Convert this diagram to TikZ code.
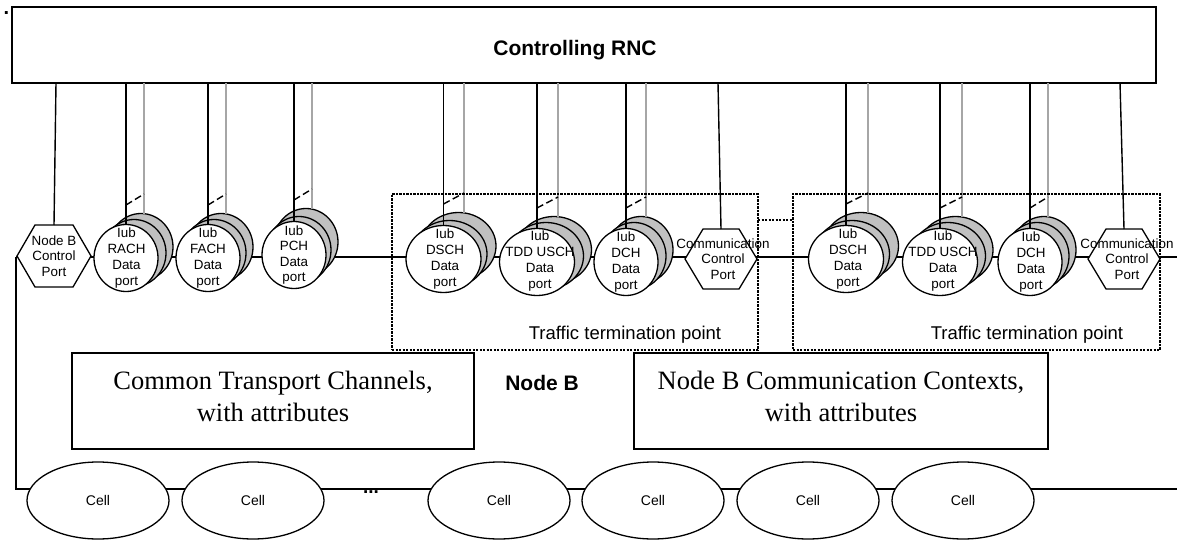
\documentclass[tikz,border=0pt]{standalone}
\usepackage{fontspec}
\setmainfont{Liberation Sans}
\newfontfamily\timesfont{Liberation Serif}
\usetikzlibrary{shapes.geometric,calc}
\definecolor{stackgray}{HTML}{C0C0C0}
\definecolor{wiregray}{HTML}{A6A6A6}
\tikzset{
  wire/.style={line width=1.4pt,black},
  graywire/.style={line width=1.4pt,wiregray},
  slash/.style={line width=1.4pt,black,dash pattern=on 7pt off 3.5pt},
  port/.style={ellipse,draw,line width=1.3pt,inner sep=0pt,outer sep=0pt,minimum height=67pt},
  portback/.style={port,fill=stackgray},
  portfront/.style={port,fill=white},
  porttext/.style={align=center,inner sep=0pt,font=\fontsize{13.4}{16}\selectfont},
  hextext/.style={align=center,inner sep=0pt,font=\fontsize{13.4}{15.3}\selectfont},
  hexbox/.style={rectangle,inner sep=0pt,outer sep=0pt},
  hexline/.style={draw,fill=white,line width=1.3pt,line join=miter},
  frame/.style={rectangle,draw,line width=1.4pt,inner sep=0pt,outer sep=0pt},
  serifbox/.style={frame,fill=white,minimum width=402pt,minimum height=96pt},
  seriftext/.style={align=center,inner sep=0pt,font=\timesfont\fontsize{26.5}{32}\selectfont},
  boldtext/.style={inner sep=0pt,font=\bfseries\fontsize{21}{24}\selectfont},
  tpoint/.style={rectangle,draw,line width=2.4pt,dash pattern=on 2.4pt off 1.1pt,inner sep=0pt,outer sep=0pt,
    minimum width=366pt,minimum height=156pt},
  tlabel/.style={inner sep=0pt,font=\fontsize{18.5}{20}\selectfont},
  cell/.style={ellipse,draw,fill=white,line width=1.3pt,inner sep=0pt,outer sep=0pt,
    minimum width=142pt,minimum height=77pt,font=\fontsize{14}{16}\selectfont},
}
% name, cx, cy, rx, mid dx, mid dy, back dx, back dy, gray x
\newcommand{\portstack}[9]{%
  \node[portback,minimum width=#4pt*2] (#1b) at (#2+#7,#3+#8) {};
  \node[portback,minimum width=#4pt*2] (#1m) at (#2+#5,#3+#6) {};
  \node[portfront,minimum width=#4pt*2] (#1f) at (#2,#3) {};
  \coordinate (#1g) at (#9,#3+#8-33);
  \coordinate (#1p) at (#2,#3+#8-33-9);
  \coordinate (#1q) at (#9,#3+#8-33-20);
  \draw[wire] (#1f.north |- rnc.south) -- (#1f.north);
  \draw[graywire] (#1g |- rnc.south) -- (#1g);
  \draw[slash] (#1p) -- (#1q);
}
% name, cx, cy, width, height, chamfer
\newcommand{\hexnode}[6]{%
  \node[hexbox,minimum width=#4pt,minimum height=#5pt] (#1) at (#2,#3) {};
  \path[hexline] (#1.west) -- ($(#1.north west)+(#6,0)$) -- ($(#1.north east)+(-#6,0)$)
    -- (#1.east) -- ($(#1.south east)+(-#6,0)$) -- ($(#1.south west)+(#6,0)$) -- cycle;
}
\begin{document}
\begin{tikzpicture}[x=1pt,y=-1pt]
\useasboundingbox (0,0) rectangle (1177,540);
\node[inner sep=0pt,font=\bfseries\fontsize{20}{20}\selectfont] (dot) at (6.5,13) {.};
\node[frame,minimum width=1144pt,minimum height=76pt] (rnc) at (584,45) {};
\node[boldtext] (rnctext) at (575,50) {Controlling RNC};
% busses
\coordinate (busEnd) at (1177,257);
\coordinate (cellEnd) at (1177,489);
\coordinate (corner) at (16,257);
\coordinate (cornerB) at (16,489);
\draw[wire] (corner) -- (busEnd);
\draw[wire] (corner) -- (cornerB) -- (cellEnd);
% port stacks
\portstack{rach}{126}{258}{32}{8}{-5}{15}{-11}{144}
\portstack{fach}{208}{258}{32}{6}{-5}{13}{-11}{226}
\portstack{pch}{294}{255}{32}{5}{-5}{12}{-13}{312}
\portstack{dscha}{443.5}{259}{37.5}{6}{-5}{15}{-13}{464}
\portstack{tdda}{537}{262}{37.5}{9}{-6}{17}{-12}{558}
\portstack{dcha}{626}{262}{32}{8}{-6}{15}{-12}{646}
\portstack{dschb}{846}{259}{37.5}{6}{-5}{15}{-13}{868}
\portstack{tddb}{940}{262}{37.5}{8}{-6}{15.5}{-12}{962}
\portstack{dchb}{1030}{262}{32}{7}{-6}{14}{-12}{1048}
% hexagons
\hexnode{nbport}{54}{256}{74}{62}{18}
\hexnode{ccpa}{721}{259}{72}{60}{18}
\hexnode{ccpb}{1124}{259}{72}{60}{18}
\draw[wire] (56,83 |- rnc.south) -- (nbport.north);
\draw[wire] (718,83 |- rnc.south) -- (ccpa.north);
\draw[wire] (1120,83 |- rnc.south) -- (ccpb.north);
% port labels
\node[hextext] (nbtext) at (54,256) {Node B\\Control\\Port};
\node[porttext] (t1) at (126.5,258.5) {Iub\\RACH\\Data\\port};
\node[porttext] (t2) at (208,258.5) {Iub\\FACH\\Data\\port};
\node[porttext,font=\fontsize{13.4}{15.3}\selectfont] (t3) at (294,255) {Iub\\PCH\\Data\\port};
\node[porttext] (t4) at (445,259) {Iub\\DSCH\\Data\\port};
\node[porttext] (t5) at (540,261.5) {Iub\\TDD USCH\\Data\\port};
\node[porttext] (t6) at (626,262) {Iub\\DCH\\Data\\port};
\node[hextext] (c1) at (723,259) {Communication\\Control\\Port};
\node[porttext] (t7) at (848,259) {Iub\\DSCH\\Data\\port};
\node[porttext] (t8) at (943,261.5) {Iub\\TDD USCH\\Data\\port};
\node[porttext] (t9) at (1031,262) {Iub\\DCH\\Data\\port};
\node[hextext] (c2) at (1127,259) {Communication\\Control\\Port};
% traffic termination frames
\node[tpoint] (tta) at (575,272) {};
\node[tpoint,minimum width=367pt] (ttb) at (976.5,272) {};
\draw[line width=2pt,dash pattern=on 2pt off 1.5pt] (tta.east |- 0,220) -- (ttb.west |- 0,220);
\node[tlabel] (l1) at (625,335) {Traffic termination point};
\node[tlabel] (l2) at (1027,335) {Traffic termination point};
% context boxes
\node[serifbox] (ctc) at (273,401) {};
\node[seriftext] (ctctext) at (273,396) {Common Transport Channels,\\with attributes};
\node[serifbox,minimum width=414pt] (ctx) at (841,401) {};
\node[seriftext] (ctxtext) at (841,396) {Node B Communication Contexts,\\with attributes};
\node[boldtext] (nb) at (542,383) {Node B};
% cells
\node[cell] (cell1) at (98,500.5) {Cell};
\node[cell] (cell2) at (253,500.5) {Cell};
\node[cell] (cell3) at (499,500.5) {Cell};
\node[cell] (cell4) at (653,500.5) {Cell};
\node[cell] (cell5) at (808,500.5) {Cell};
\node[cell] (cell6) at (963,500.5) {Cell};
\node[inner sep=0pt,font=\bfseries\fontsize{19}{20}\selectfont] (dots) at (371,492) {...};
\end{tikzpicture}
\end{document}
